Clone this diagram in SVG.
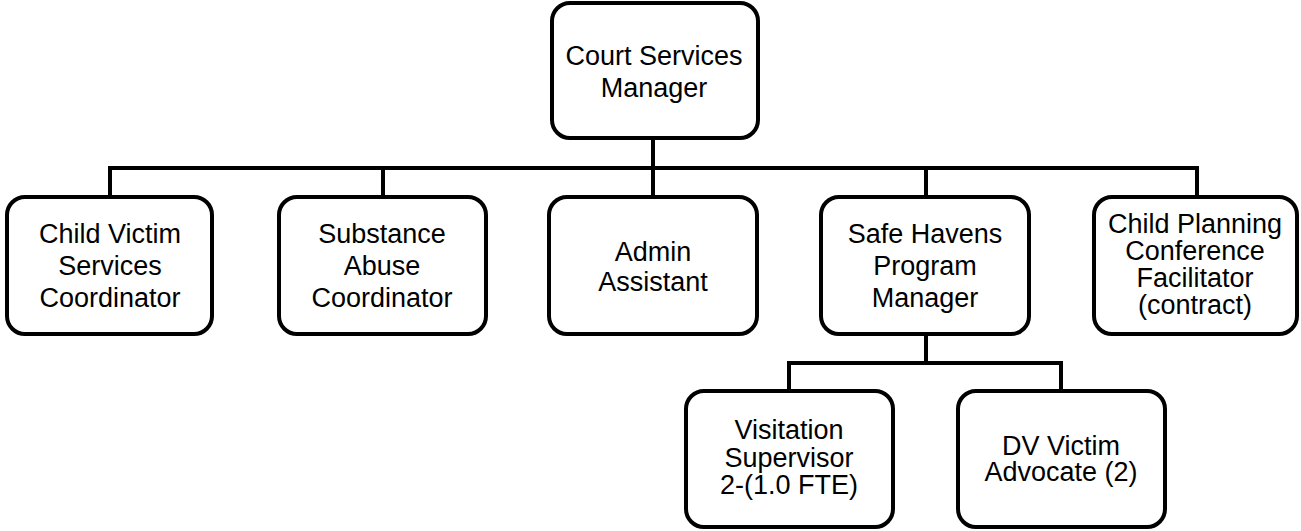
<svg xmlns="http://www.w3.org/2000/svg" width="1301" height="531" viewBox="0 0 1301 531">
  <style>
    .box { fill: #ffffff; stroke: #000000; stroke-width: 4; }
    .line { fill: none; stroke: #000000; stroke-width: 4; }
    text { font-family: "Liberation Sans", Arial, sans-serif; font-size: 27px; fill: #000000; text-anchor: middle; }
  </style>
  <rect width="1301" height="531" fill="#ffffff"/>

  <!-- connectors -->
  <g id="connectors">
    <path class="line" d="M653 138 V168 M110 197 V168 H1197 V197 M383 168 V197 M653 168 V197 M926 168 V197"/>
    <path class="line" d="M926 334 V363 M789 391 V363 H1061 V391"/>
  </g>

  <g id="court-services-manager">
    <rect class="box" x="552" y="3" width="206" height="135" rx="18"/>
    <text x="654" y="65">Court Services</text>
    <text x="654" y="97">Manager</text>
  </g>

  <g id="child-victim-services-coordinator">
    <rect class="box" x="7" y="197" width="205" height="137" rx="18"/>
    <text x="110" y="242.5">Child Victim</text>
    <text x="110" y="275">Services</text>
    <text x="110" y="307">Coordinator</text>
  </g>

  <g id="substance-abuse-coordinator">
    <rect class="box" x="279" y="197" width="207" height="137" rx="18"/>
    <text x="382" y="242.5">Substance</text>
    <text x="382" y="275">Abuse</text>
    <text x="382" y="307">Coordinator</text>
  </g>

  <g id="admin-assistant">
    <rect class="box" x="549" y="197" width="208" height="137" rx="18"/>
    <text x="653" y="260.5">Admin</text>
    <text x="653" y="290.5">Assistant</text>
  </g>

  <g id="safe-havens-program-manager">
    <rect class="box" x="821" y="197" width="208" height="137" rx="18"/>
    <text x="925" y="242.5">Safe Havens</text>
    <text x="925" y="275">Program</text>
    <text x="925" y="307">Manager</text>
  </g>

  <g id="child-planning-conference-facilitator">
    <rect class="box" x="1094" y="197" width="203" height="137" rx="18"/>
    <text x="1195" y="233">Child Planning</text>
    <text x="1195" y="260">Conference</text>
    <text x="1195" y="287">Facilitator</text>
    <text x="1195" y="313.5">(contract)</text>
  </g>

  <g id="visitation-supervisor">
    <rect class="box" x="686" y="391" width="207" height="136" rx="18"/>
    <text x="789" y="439">Visitation</text>
    <text x="789" y="466.5">Supervisor</text>
    <text x="789" y="494">2-(1.0 FTE)</text>
  </g>

  <g id="dv-victim-advocate">
    <rect class="box" x="958" y="391" width="207" height="136" rx="18"/>
    <text x="1061" y="455">DV Victim</text>
    <text x="1061" y="481">Advocate (2)</text>
  </g>
</svg>
